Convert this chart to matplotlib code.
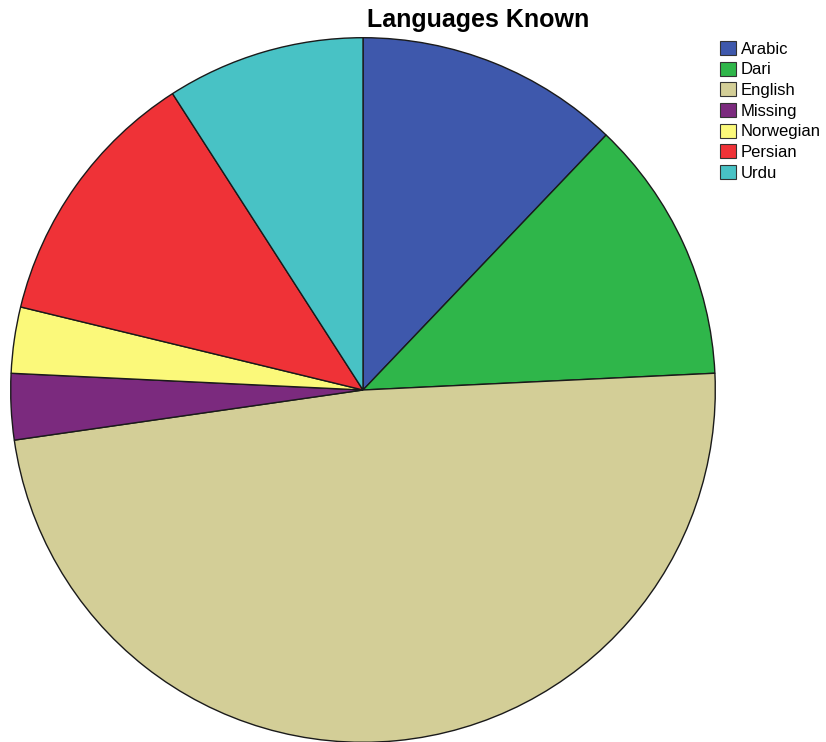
import matplotlib.pyplot as plt
from matplotlib.patches import Patch

# Languages known, counts per respondent
languages = ['Arabic', 'Dari', 'English', 'Missing', 'Norwegian', 'Persian', 'Urdu']
counts = [4, 4, 16, 1, 1, 4, 3]
colors = ['#3E58AC', '#2FB64A', '#D3CE97', '#7B2A7E', '#FBF97A', '#EF3237', '#48C2C5']

fig = plt.figure(figsize=(8.26, 7.42), dpi=100)
ax = fig.add_axes([10 / 826, -1 / 742, 706 / 826, 706 / 742])

ax.pie(counts, colors=colors, startangle=90, counterclock=False,
       wedgeprops=dict(edgecolor='#1a1a1a', linewidth=1.0))
ax.set_xlim(-1.002, 1.002)
ax.set_ylim(-1.002, 1.002)
ax.set_aspect('equal')

fig.text(478 / 826, 1 - 27 / 742, 'Languages Known', ha='center', va='baseline',
         fontsize=18, fontweight='bold', family='Liberation Sans')

handles = [Patch(facecolor=c, edgecolor='#333333', linewidth=0.8) for c in colors]
fig.legend(handles, languages, loc='upper left', bbox_to_anchor=(720 / 826, 1 - 41 / 742),
           frameon=False, handlelength=0.95, handleheight=0.9,
           handletextpad=0.3, labelspacing=0.3, borderpad=0, borderaxespad=0,
           prop={'family': 'Liberation Sans', 'size': 12})

fig.savefig('out.png', dpi=100)
